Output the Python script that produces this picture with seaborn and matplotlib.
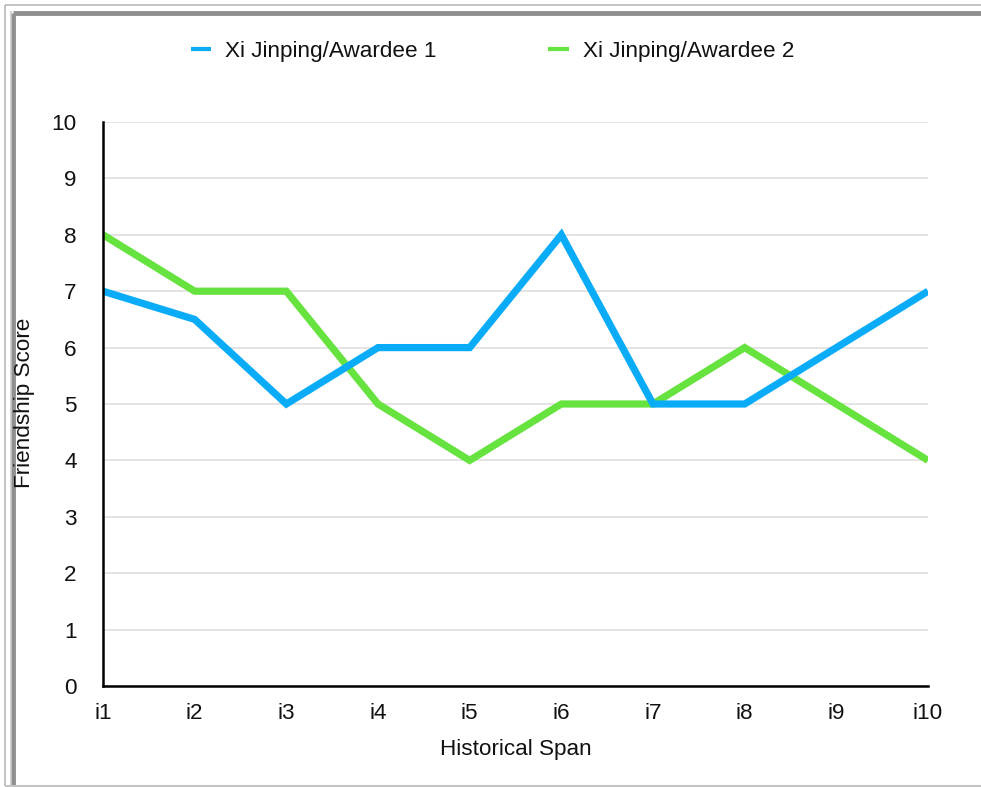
import matplotlib
matplotlib.use("Agg")
import matplotlib.pyplot as plt
from matplotlib.lines import Line2D
import seaborn as sns
import pandas as pd

# Data
spans = ["i1", "i2", "i3", "i4", "i5", "i6", "i7", "i8", "i9", "i10"]
awardee_1 = [7, 6.5, 5, 6, 6, 8, 5, 5, 6, 7]
awardee_2 = [8, 7, 7, 5, 4, 5, 5, 6, 5, 4]
series_names = ["Xi Jinping/Awardee 1", "Xi Jinping/Awardee 2"]
y_ticks = [0, 1, 2, 3, 4, 5, 6, 7, 8, 9, 10]

df = pd.DataFrame({
    "Historical Span": spans * 2,
    "Friendship Score": awardee_1 + awardee_2,
    "Series": [series_names[0]] * len(spans) + [series_names[1]] * len(spans),
})

sns.set_theme(style="white")
plt.rcParams["font.family"] = ["Liberation Sans", "DejaVu Sans"]
FS = 16.2

W, H = 981, 787
fig = plt.figure(figsize=(W / 100, H / 100), dpi=100)
fig.patch.set_facecolor("white")
ax = fig.add_axes([103 / W, 1 - 686 / H, (928 - 103) / W, (686 - 122) / H])

palette = {series_names[0]: "#0AACF7", series_names[1]: "#66E33E"}
ax.set_ylim(0, 10)
ax.set_yticks(y_ticks)
ax.grid(axis="y", color="#dcdcdc", linewidth=1.1, zorder=0)
ax.set_axisbelow(True)

# green series first so the blue line sits on top
sns.lineplot(data=df, x="Historical Span", y="Friendship Score", hue="Series",
             hue_order=[series_names[1], series_names[0]], palette=palette,
             linewidth=5.2, sort=False, ax=ax, legend=False,
             solid_joinstyle="miter", solid_capstyle="butt", zorder=3)

ax.set_xlim(0, len(spans) - 1)
ax.set_ylim(0, 10)

for side in ["top", "right"]:
    ax.spines[side].set_visible(False)
for side in ["left", "bottom"]:
    ax.spines[side].set_color("black")
    ax.spines[side].set_linewidth(1.8)
    ax.spines[side].set_zorder(4)

ax.tick_params(axis="both", length=0, labelsize=FS, colors="#111111")
ax.tick_params(axis="y", pad=19)
ax.tick_params(axis="x", pad=12)
ax.set_xlabel("Historical Span", fontsize=FS, color="#111111", va="center")
ax.set_ylabel("Friendship Score", fontsize=FS, color="#111111", va="center")
ax.xaxis.set_label_coords(0.5, (686 - 749) / 564)
ax.yaxis.set_label_coords((24.5 - 103) / 825, (686 - 403) / 564)

handles = [Line2D([], [], color=palette[n], linewidth=3.0, solid_capstyle="butt")
           for n in series_names]
fig.legend(handles, series_names, loc="center", bbox_to_anchor=(492.5 / W, 1 - 51 / H),
           ncol=2, frameon=False, fontsize=FS, handlelength=0.92,
           handletextpad=0.62, columnspacing=4.95, borderpad=0, labelcolor="#111111")

# picture frame around the chart, kept underneath the axes content
def frame_line(x0, y0, x1, y1, color, lw):
    fig.add_artist(Line2D([x0 / W, x1 / W], [1 - y0 / H, 1 - y1 / H],
                          color=color, linewidth=lw, solid_capstyle="butt",
                          transform=fig.transFigure, zorder=-1))

frame_line(5, 4.5, W, 4.5, "#b8b8b8", 1.2)
frame_line(5, 4.5, 5, H - 1.5, "#b8b8b8", 1.2)
frame_line(13, 13, W, 13, "#8f8f8f", 3.5)
frame_line(13, 13, 13, H - 1.5, "#8f8f8f", 3.5)
frame_line(10.5, 11, 10.5, H - 1.5, "#c8c8c8", 1.2)
frame_line(5, H - 1.5, W, H - 1.5, "#c4c4c4", 1.5)

fig.savefig("out.png", dpi=100)
